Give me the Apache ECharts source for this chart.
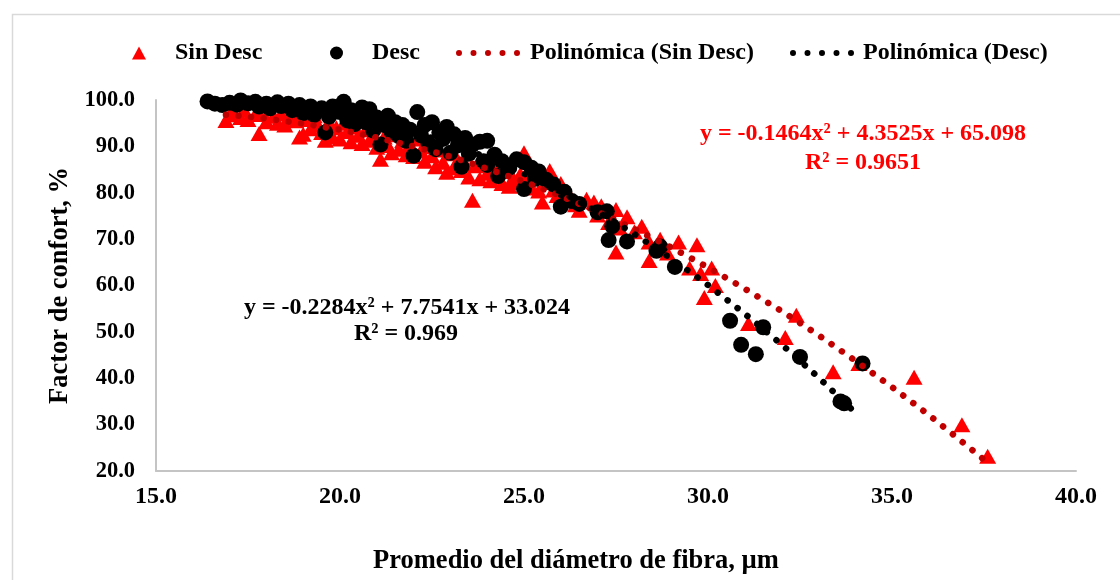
<!DOCTYPE html>
<html>
<head>
<meta charset="utf-8">
<script src="https://cdn.jsdelivr.net/npm/echarts@6/dist/echarts.min.js"></script>
<style>
html,body{margin:0;padding:0;background:#fff;}
#chart{width:1120px;height:580px;}
</style>
</head>
<body>
<div id="chart"></div>
<script>
// ---- data ----
const xTicks = [15, 20, 25, 30, 35, 40];
const yTicks = [20, 30, 40, 50, 60, 70, 80, 90, 100];

const sinDesc = [
[16.9,95.6],[17.0,96.8],[17.1,97.5],[17.3,96.2],[17.4,97.8],[17.5,95.8],[17.7,96.9],[17.8,92.8],[17.9,97.2],[18.0,95.3],
[18.2,96.5],[18.3,95.0],[18.4,97.0],[18.5,94.6],[18.6,96.2],[18.8,95.5],[18.9,92.0],[19.0,92.6],[19.1,95.8],[19.2,93.8],
[19.3,96.6],[19.4,94.6],[19.5,93.0],[19.6,91.3],[19.7,95.3],[19.8,92.0],[19.9,94.0],[20.0,91.6],[20.1,95.0],[20.2,93.2],
[20.3,91.0],[20.4,94.2],[20.5,92.4],[20.6,90.6],[20.7,93.6],[20.8,91.3],[20.9,94.4],[21.0,89.8],[21.1,87.2],[21.2,92.0],
[21.3,90.2],[21.4,88.6],[21.5,92.5],[21.6,89.4],[21.7,91.2],[21.8,88.2],[21.9,90.4],[22.0,87.8],[22.1,91.6],[22.2,89.0],
[22.3,86.8],[22.4,90.0],[22.5,88.0],[22.6,85.6],[22.7,89.2],[22.8,86.6],[22.9,84.4],[23.0,88.4],[23.1,85.4],[23.2,87.0],
[23.3,84.8],[23.4,86.2],[23.5,83.4],[23.6,78.4],[23.7,85.8],[23.8,83.0],[23.9,86.6],[24.0,84.2],[24.1,82.6],[24.2,85.2],
[24.3,83.6],[24.4,82.0],[24.5,84.6],[24.6,81.4],[24.7,83.2],[24.8,82.2],[24.9,84.0],[25.0,88.6],[25.1,82.6],[25.2,81.0],
[25.3,83.4],[25.4,80.4],[25.5,78.0],[25.6,82.2],[25.7,84.8],[25.8,80.6],[25.9,79.4],[26.0,82.0],[26.1,78.6],[26.2,80.0],
[26.4,77.4],[26.5,76.2],[26.7,78.6],[26.9,78.0],[27.0,75.2],[27.1,77.2],[27.3,73.6],[27.5,76.4],[27.5,67.2],[27.6,72.4],
[27.8,74.8],[28.0,71.6],[28.2,72.8],[28.4,65.4],[28.4,69.4],[28.7,70.0],[28.9,67.0],[29.2,69.4],[29.5,63.8],[29.7,68.8],
[29.8,62.6],[29.9,57.4],[30.1,63.8],[30.2,60.0],[31.1,51.8],[32.1,48.8],[32.4,53.6],[33.4,41.4],[34.1,43.2],[35.6,40.2],
[36.9,30.0],[37.6,23.2]
];

const desc = [
[16.4,99.7],[16.6,99.2],[16.8,98.9],[17.0,99.4],[17.2,99.0],[17.3,99.9],[17.5,99.3],[17.7,99.6],[17.8,98.6],[18.0,99.2],
[18.1,98.2],[18.3,99.5],[18.4,98.7],[18.6,99.2],[18.7,97.8],[18.9,98.9],[19.0,97.2],[19.2,98.6],[19.3,96.8],[19.5,98.2],
[19.6,93.0],[19.7,96.4],[19.8,98.6],[20.0,97.4],[20.1,99.6],[20.2,95.6],[20.3,97.8],[20.4,94.8],[20.5,96.8],[20.6,98.4],
[20.7,95.2],[20.8,98.0],[20.9,93.4],[21.0,96.2],[21.1,90.4],[21.2,94.6],[21.3,96.6],[21.4,93.2],[21.5,95.2],[21.6,92.2],
[21.7,94.6],[21.8,91.2],[21.9,93.6],[22.0,88.0],[22.1,97.4],[22.2,92.4],[22.3,94.6],[22.4,90.8],[22.5,95.2],[22.6,89.4],
[22.7,93.0],[22.8,91.6],[22.9,94.2],[23.0,88.6],[23.1,92.6],[23.2,90.2],[23.3,85.6],[23.4,91.8],[23.5,88.4],[23.6,90.4],
[23.8,91.0],[23.9,86.8],[24.0,91.2],[24.0,86.0],[24.2,88.2],[24.3,83.6],[24.4,86.8],[24.6,85.4],[24.8,87.2],[25.0,86.6],
[25.0,80.8],[25.2,85.4],[25.3,83.0],[25.4,84.6],[25.6,82.8],[25.8,81.8],[26.0,77.0],[26.1,80.2],[26.3,78.2],[26.5,77.6],
[27.0,75.8],[27.25,76.0],[27.3,69.8],[27.4,72.8],[27.8,69.5],[28.6,67.5],[28.7,68.4],[29.1,64.0],[30.6,52.4],[30.9,47.2],
[31.3,45.2],[31.5,51.0],[32.5,44.6],[33.6,35.0],[33.7,34.6],[34.2,43.2]
];

// trendline points
const trendSinDesc = [
[16.9,96.8],[17,96.8],[18,96.0],[19,94.9],[20,93.6],[21,91.9],[22,90.0],[23,87.8],[24,85.2],[25,82.4],[26,79.3],
[27,75.9],[28,72.2],[29,68.2],[30,63.9],[31,59.3],[32,54.5],[33,49.3],[34,43.8],[35,38.1],[36,32.1],[37,25.7],[37.6,21.8]
];
const trendDesc = [
[16.4,98.8],[17,98.8],[18,98.6],[19,97.9],[20,96.7],[21,95.1],[22,93.1],[23,90.5],[24,87.6],[25,84.1],[26,80.2],
[27,75.9],[28,71.1],[29,65.8],[30,60.1],[31,53.9],[32,47.3],[33,40.2],[34,32.6],[34.1,31.9]
];

const eqSinDesc = ['y = -0.1464x² + 4.3525x + 65.098', 'R² = 0.9651'];
const eqDesc = ['y = -0.2284x² + 7.7541x + 33.024', 'R² = 0.969'];

const FONT = '"Liberation Serif", "Times New Roman", serif';
const DOTS = 'path://M0,3a3,3 0 1,0 6,0a3,3 0 1,0 -6,0zM14.5,3a3,3 0 1,0 6,0a3,3 0 1,0 -6,0zM29,3a3,3 0 1,0 6,0a3,3 0 1,0 -6,0zM43.5,3a3,3 0 1,0 6,0a3,3 0 1,0 -6,0zM58,3a3,3 0 1,0 6,0a3,3 0 1,0 -6,0z';
const chart = echarts.init(document.getElementById('chart'));

function legendFor(item, left, iw, ih, pad) {
  return {
    data: [item], left: left, top: 36, itemWidth: iw, itemHeight: ih,
    textStyle: { fontFamily: FONT, fontWeight: 'bold', fontSize: 24, color: '#000', padding: [0, 0, 0, pad] },
    selectedMode: false
  };
}

chart.setOption({
  animation: false,
  backgroundColor: '#fff',
  grid: { left: 156, right: 44, top: 100, bottom: 106, containLabel: false },
  legend: [
    legendFor({ name: 'Sin Desc' }, 127, 14, 13, 24),
    legendFor({ name: 'Desc' }, 325, 13, 13, 24),
    legendFor({ name: 'Polinómica (Sin Desc)', icon: DOTS }, 451, 64, 6, 5),
    legendFor({ name: 'Polinómica (Desc)', icon: DOTS }, 785, 64, 6, 4)
  ],
  xAxis: {
    type: 'value', min: xTicks[0], max: xTicks[xTicks.length - 1], interval: 5,
    splitLine: { show: false },
    axisLine: { lineStyle: { color: '#c4c4c4', width: 2 } },
    axisTick: { show: false },
    axisLabel: { fontFamily: FONT, fontWeight: 'bold', fontSize: 24, color: '#000', margin: 14,
      formatter: v => v.toFixed(1) },
    name: 'Promedio del diámetro de fibra, µm', nameLocation: 'middle', nameGap: 77,
    nameTextStyle: { fontFamily: FONT, fontWeight: 'bold', fontSize: 26.5, color: '#000', padding: [0, 80, 0, 0] }
  },
  yAxis: {
    type: 'value', min: yTicks[0], max: yTicks[yTicks.length - 1], interval: 10,
    splitLine: { show: false },
    axisLine: { show: true, lineStyle: { color: '#c4c4c4', width: 2 } },
    axisTick: { show: false },
    axisLabel: { fontFamily: FONT, fontWeight: 'bold', fontSize: 22.5, color: '#000', margin: 21,
      formatter: v => v.toFixed(1) },
    name: 'Factor de confort, %', nameLocation: 'middle', nameGap: 80,
    nameTextStyle: { fontFamily: FONT, fontWeight: 'bold', fontSize: 26.5, color: '#000' }
  },
  series: [
    { name: 'Sin Desc', type: 'scatter', symbol: 'triangle', symbolSize: [17, 15],
      itemStyle: { color: '#ff0000', opacity: 1 }, data: sinDesc, z: 2 },
    { name: 'Desc', type: 'scatter', symbol: 'circle', symbolSize: 16,
      itemStyle: { color: '#000000', opacity: 1 }, data: desc, z: 3 },
    { name: 'Polinómica (Sin Desc)', type: 'line', showSymbol: false, symbol: 'none', smooth: false,
      lineStyle: { color: '#c00000', width: 6.5, type: [0.1, 12.5], cap: 'round' },
      itemStyle: { color: '#c00000' }, data: trendSinDesc, z: 4 },
    { name: 'Polinómica (Desc)', type: 'line', showSymbol: false, symbol: 'none', smooth: false,
      lineStyle: { color: '#000000', width: 6.5, type: [0.1, 12.5], cap: 'round' },
      itemStyle: { color: '#000000' }, data: trendDesc, z: 4 }
  ],
  graphic: [
    { type: 'rect', left: 10, top: 12, shape: { width: 1200, height: 700 }, silent: true, z: -10,
      style: { fill: 'none', stroke: '#d9d9d9', lineWidth: 1.5 } },
    { type: 'text', x: 863, y: 134, z: 10, style: { text: eqSinDesc[0], fill: '#ff0000', font: 'bold 24px ' + FONT, textAlign: 'center', textVerticalAlign: 'middle' } },
    { type: 'text', x: 863, y: 163, z: 10, style: { text: eqSinDesc[1], fill: '#ff0000', font: 'bold 24px ' + FONT, textAlign: 'center', textVerticalAlign: 'middle' } },
    { type: 'text', x: 407, y: 308, z: 10, style: { text: eqDesc[0], fill: '#000', font: 'bold 24px ' + FONT, textAlign: 'center', textVerticalAlign: 'middle' } },
    { type: 'text', x: 406, y: 334, z: 10, style: { text: eqDesc[1], fill: '#000', font: 'bold 24px ' + FONT, textAlign: 'center', textVerticalAlign: 'middle' } }
  ]
});
</script>
</body>
</html>
